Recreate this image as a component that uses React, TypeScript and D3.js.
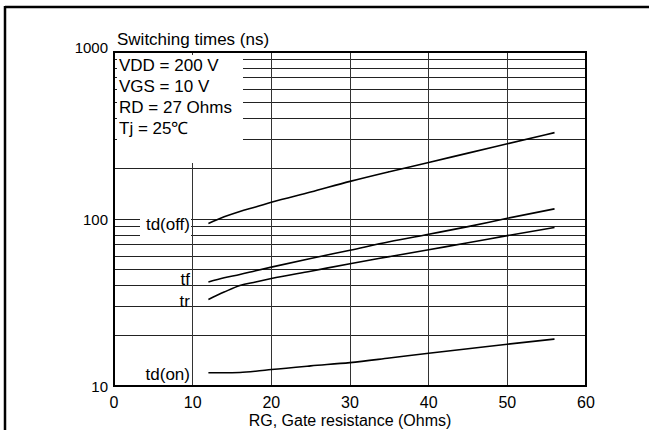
import React, { useEffect, useRef } from 'react';
import * as d3 from 'd3';

// gate resistance (Ohms) sample points
const rg = [12, 14, 16, 18, 20, 25, 30, 35, 40, 45, 50, 56];
// switching times (ns)
const tdOff = [94, 103, 111, 118, 126, 145, 168, 192, 218, 248, 282, 329];
const tf = [42, 44.5, 46.5, 49, 51.5, 58, 65, 73, 81, 90, 101, 115];
const tr = [33, 36.5, 40, 42, 44, 48.7, 54, 59.5, 65.5, 72, 79.5, 89];
const tdOn = [12, 12, 12.05, 12.25, 12.55, 13.2, 13.8, 14.7, 15.7, 16.7, 17.8, 19.1];

const xTicks = [0, 10, 20, 30, 40, 50, 60];
const yTickLabels = [10, 100, 1000];
const conditions = ['VDD = 200 V', 'VGS = 10 V', 'RD = 27 Ohms', 'Tj = 25\u2103'];

const series = [
  { name: 'td(off)', values: tdOff },
  { name: 'tf', values: tf },
  { name: 'tr', values: tr },
  { name: 'td(on)', values: tdOn },
];

const W = 649;
const H = 430;
const FONT = '"Liberation Sans", Arial, sans-serif';

export default function App() {
  const ref = useRef<SVGSVGElement>(null);

  useEffect(() => {
    if (!ref.current) return;
    const svg = d3.select(ref.current).html('');

    const x = d3.scaleLinear().domain([0, 60]).range([114, 586]);
    const y = d3.scaleLog().domain([10, 1000]).range([386, 52]);

    // outer frame (top and left only)
    svg.append('line').attr('x1', 5).attr('x2', W).attr('y1', 7).attr('y2', 7)
      .attr('stroke', '#000').attr('stroke-width', 2.5);
    svg.append('line').attr('x1', 5).attr('x2', 5).attr('y1', 6).attr('y2', H)
      .attr('stroke', '#000').attr('stroke-width', 2.5);

    const grid = svg.append('g');
    // horizontal log grid
    const hVals: number[] = [];
    for (const dec of [10, 100]) for (let k = 1; k <= 9; k++) hVals.push(dec * k);
    grid.selectAll('.h').data(hVals.filter(v => v > 10)).enter().append('line')
      .attr('x1', x(0)).attr('x2', x(60))
      .attr('y1', d => y(d)).attr('y2', d => y(d))
      .attr('stroke', '#222').attr('stroke-width', 1).attr('shape-rendering', 'crispEdges');
    // vertical grid
    grid.selectAll('.v').data(xTicks.filter(v => v > 0 && v < 60)).enter().append('line')
      .attr('x1', d => x(d)).attr('x2', d => x(d))
      .attr('y1', y(1000)).attr('y2', y(10))
      .attr('stroke', '#333').attr('stroke-width', 1).attr('shape-rendering', 'crispEdges');

    // white box behind conditions
    svg.append('rect').attr('x', 117).attr('y', 55).attr('width', 126).attr('height', 108).attr('fill', '#fff');
    // white box behind td(off) label
    svg.append('rect').attr('x', 140).attr('y', 213).attr('width', 51).attr('height', 23).attr('fill', '#fff');

    // plot border
    svg.append('rect').attr('x', x(0)).attr('y', y(1000))
      .attr('width', x(60) - x(0)).attr('height', y(10) - y(1000))
      .attr('fill', 'none').attr('stroke', '#000').attr('stroke-width', 2);

    // curves
    const line = d3.line<number>()
      .x((_, i) => x(rg[i]))
      .y(d => y(d))
      .curve(d3.curveMonotoneX);
    svg.selectAll('.curve').data(series).enter().append('path')
      .attr('d', d => line(d.values))
      .attr('fill', 'none').attr('stroke', '#000').attr('stroke-width', 1.6);

    const txt = svg.append('g').attr('font-family', FONT).attr('fill', '#000');

    // series labels
    const labelY: Record<string, number> = { 'td(off)': 230, tf: 285, tr: 307, 'td(on)': 380 };
    txt.selectAll('.sl').data(series).enter().append('text')
      .attr('x', 190).attr('y', d => labelY[d.name]).attr('text-anchor', 'end')
      .attr('font-size', 17)
      .text(d => d.name);

    // conditions
    txt.selectAll('.cond').data(conditions).enter().append('text')
      .attr('x', 119).attr('y', (_, i) => 71 + i * 21)
      .attr('font-size', 17)
      .text(d => d);

    txt.append('text').attr('x', 117).attr('y', 45).attr('font-size', 17)
      .text('Switching times (ns)');

    // y tick labels
    txt.selectAll('.yt').data(yTickLabels).enter().append('text')
      .attr('x', 108).attr('y', d => y(d) + (d === 1000 ? 1 : 6)).attr('text-anchor', 'end')
      .attr('font-size', 15)
      .text(d => String(d));

    // x tick labels
    txt.selectAll('.xt').data(xTicks).enter().append('text')
      .attr('x', d => x(d)).attr('y', 408).attr('text-anchor', 'middle')
      .attr('font-size', 16)
      .text(d => String(d));

    txt.append('text').attr('x', x(30)).attr('y', 426).attr('text-anchor', 'middle')
      .attr('font-size', 16)
      .text('RG, Gate resistance (Ohms)');
  }, []);

  return (
    <svg ref={ref} width={W} height={H}
      style={{ position: 'absolute', left: 0, top: 0, background: '#fff' }} />
  );
}
